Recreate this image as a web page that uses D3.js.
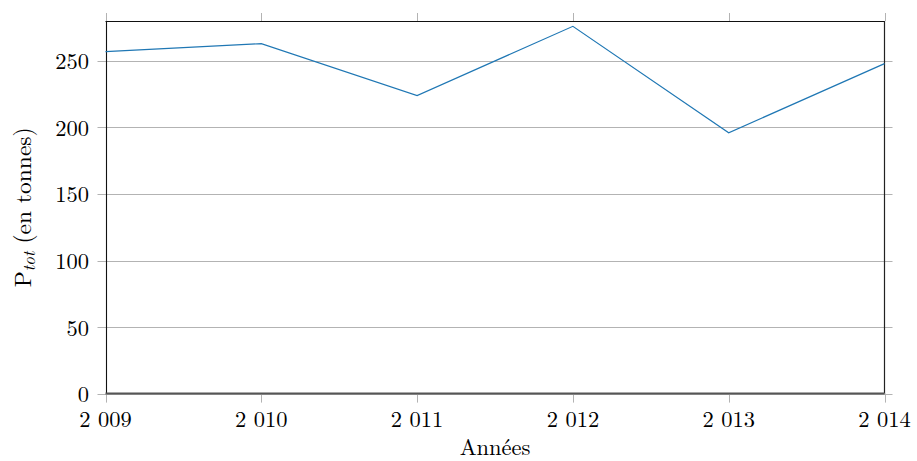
<!DOCTYPE html>
<html><head><meta charset="utf-8">
<script src="https://cdn.jsdelivr.net/npm/d3@7"></script>
<style>
html,body{margin:0;padding:0;background:#fff;}
svg text{font-family:"Latin Modern Roman","CMU Serif","Liberation Serif",serif;fill:#000;}
</style></head>
<body><svg id="c" width="917" height="461"></svg>
<script>
const years = [2009, 2010, 2011, 2012, 2013, 2014];
const ptot = [257, 263, 224, 276, 196, 248];
const yTicks = [0, 50, 100, 150, 200, 250];
const xTickLabels = ["2 009", "2 010", "2 011", "2 012", "2 013", "2 014"];

const svg = d3.select("#c");
const L = 105.5, R = 884.5, T = 21, B = 393.6;
const x = d3.scaleLinear().domain([2009, 2014]).range([L, R]);
const y = d3.scaleLinear().domain([0, 280]).range([B, T]);
const fs = 22.5;

// y grid + outside ticks both sides
const gy = svg.append("g");
yTicks.forEach(v => {
  const yy = Math.round(y(v)) + 0.5;
  gy.append("line").attr("x1", L - 8).attr("x2", R + 8).attr("y1", yy).attr("y2", yy)
    .attr("stroke", "#b3b3b3").attr("stroke-width", 1);
  gy.append("text").attr("x", 89).attr("y", y(v) + 8.5).attr("text-anchor", "end")
    .attr("font-size", fs).text(v);
});

// x ticks top and bottom (outside)
const gx = svg.append("g");
years.forEach((v, i) => {
  const xx = Math.round(x(v)) + 0.5;
  gx.append("line").attr("x1", xx).attr("x2", xx).attr("y1", B).attr("y2", B + 9)
    .attr("stroke", "#b3b3b3");
  gx.append("line").attr("x1", xx).attr("x2", xx).attr("y1", T - 8).attr("y2", T)
    .attr("stroke", "#b3b3b3");
  gx.append("text").attr("x", x(v)).attr("y", 426.5).attr("text-anchor", "middle")
    .attr("font-size", fs).text(xTickLabels[i]);
});

// frame
svg.append("line").attr("x1", L).attr("x2", R).attr("y1", T + 0.5).attr("y2", T + 0.5).attr("stroke", "#111").attr("stroke-width", 1.2);
svg.append("line").attr("x1", Math.round(L) + 0.5).attr("x2", Math.round(L) + 0.5).attr("y1", T).attr("y2", B).attr("stroke", "#111").attr("stroke-width", 1.1);
svg.append("line").attr("x1", Math.round(R) - 0.5).attr("x2", Math.round(R) - 0.5).attr("y1", T).attr("y2", B).attr("stroke", "#222").attr("stroke-width", 1.2);
svg.append("line").attr("x1", L).attr("x2", R).attr("y1", B).attr("y2", B).attr("stroke", "#555").attr("stroke-width", 2);

// data line
const line = d3.line().x((d, i) => x(years[i])).y(d => y(d));
svg.append("path").datum(ptot).attr("d", line).attr("fill", "none")
  .attr("stroke", "#1f77b4").attr("stroke-width", 1.2);

// axis labels
svg.append("text").attr("x", (L + R) / 2).attr("y", 455).attr("text-anchor", "middle")
  .attr("font-size", fs).text("Années");

const yl = svg.append("text").attr("transform", `translate(31,${(T + B) / 2}) rotate(-90)`)
  .attr("text-anchor", "middle").attr("font-size", 23.5);
yl.append("tspan").text("P");
yl.append("tspan").attr("font-style", "italic").attr("font-size", 23.5 * 0.72).attr("dy", 4).text("tot");
yl.append("tspan").attr("dy", -4).text(" (en tonnes)");
</script></body></html>
